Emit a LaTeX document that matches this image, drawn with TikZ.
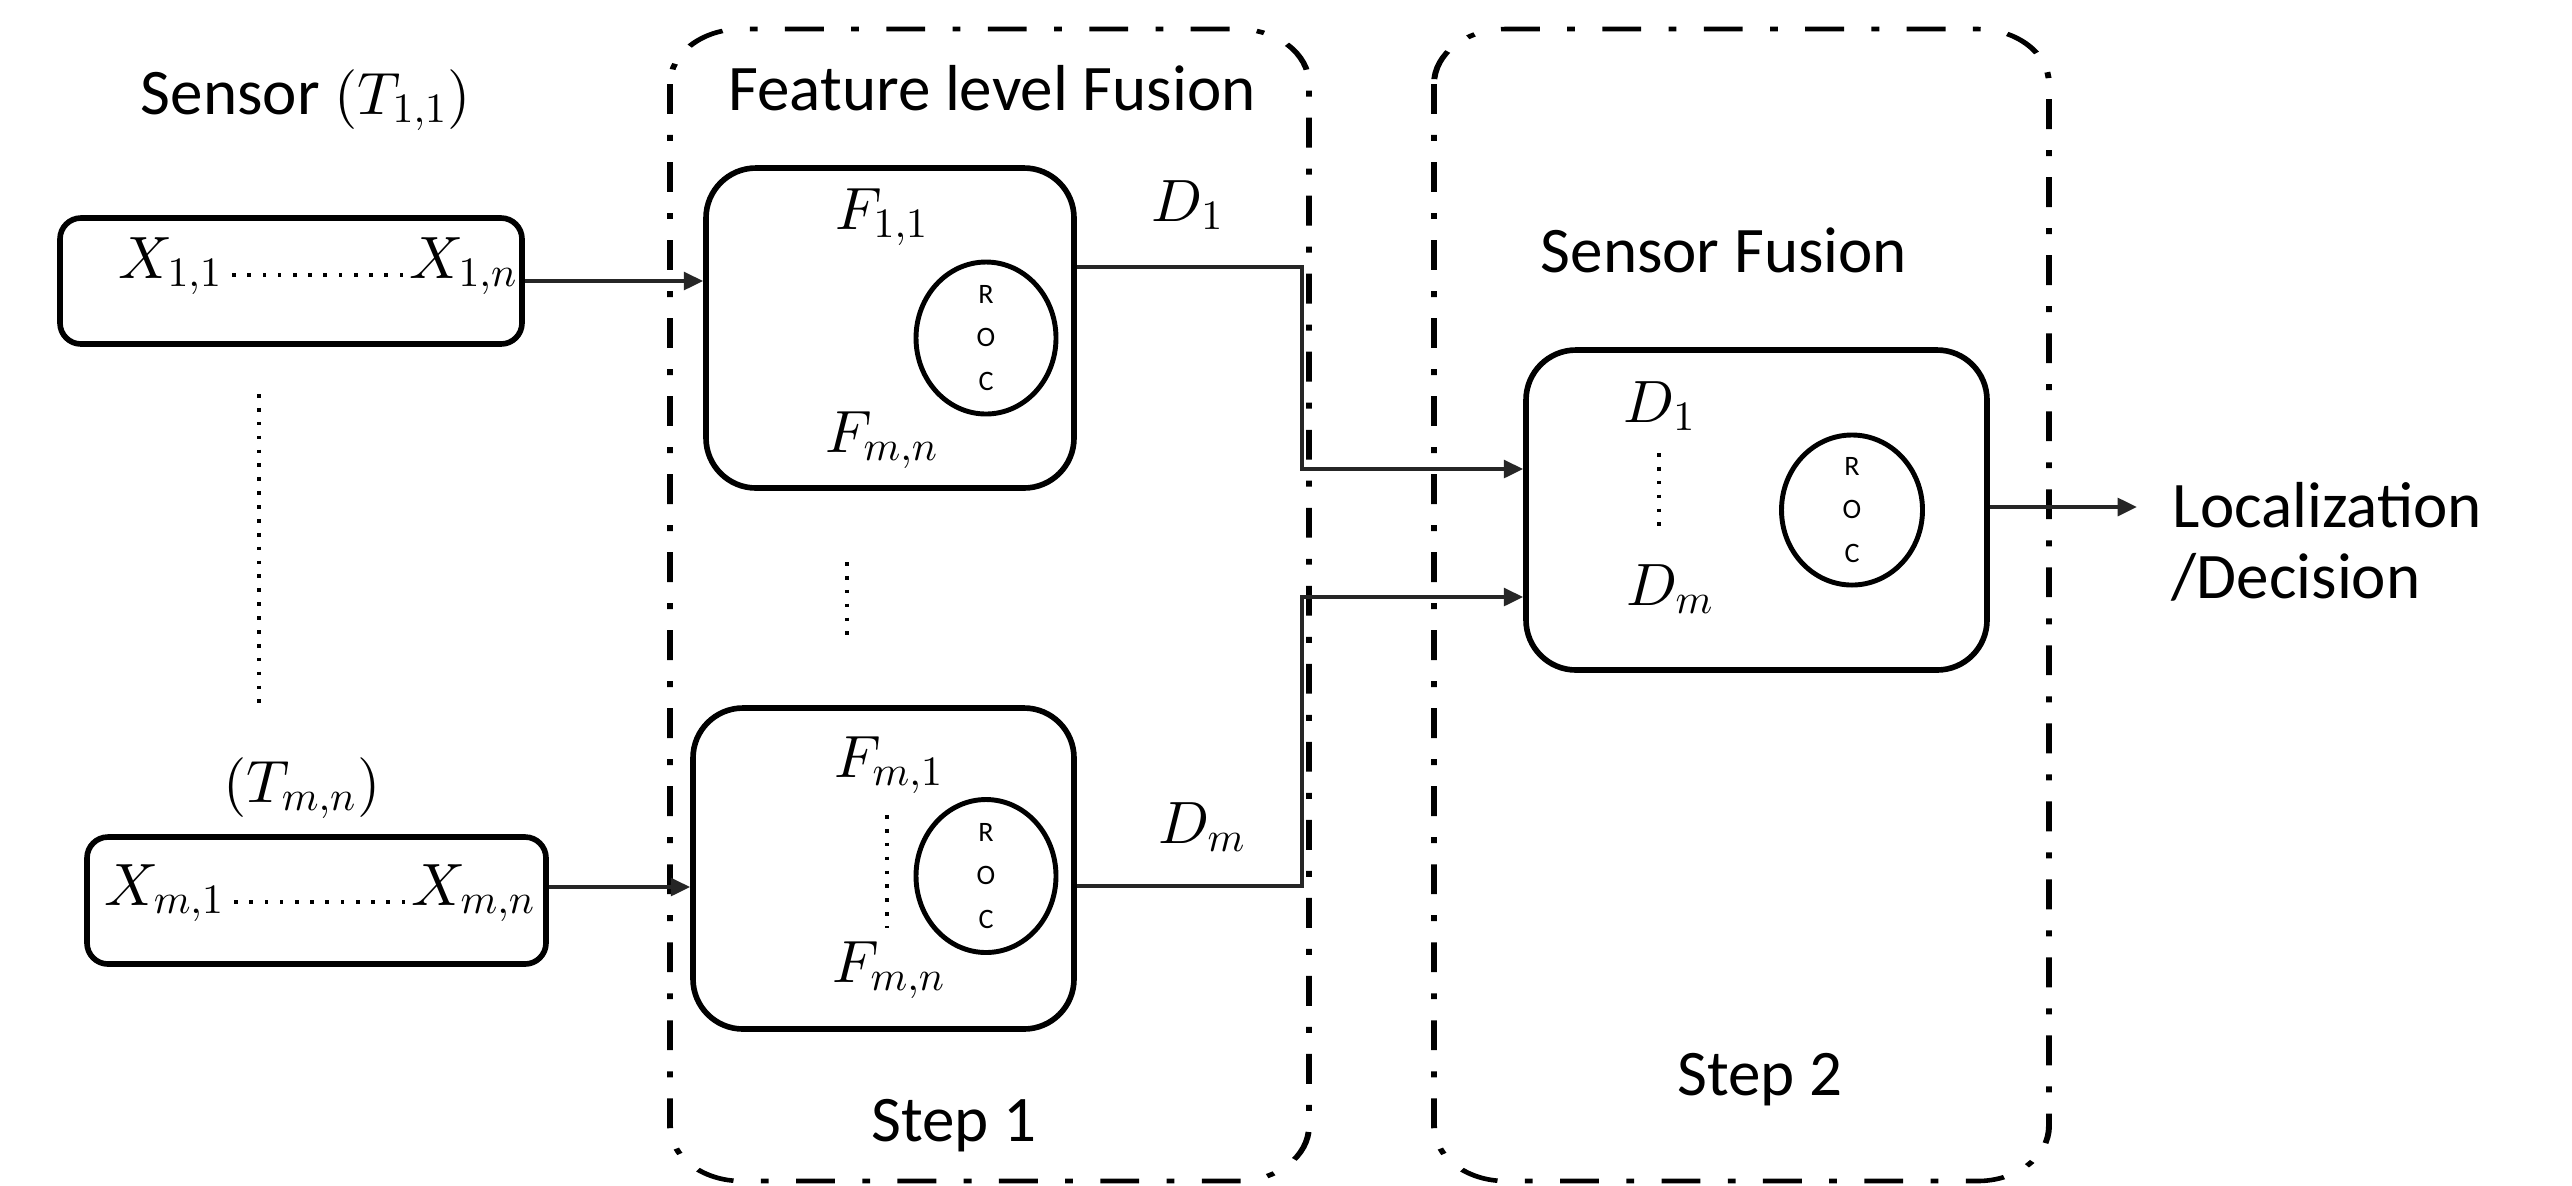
\documentclass[tikz,border=0pt]{standalone}
\usepackage[no-math]{fontspec}
\setmainfont{Carlito}
\DeclareFontShape{OML}{cmm}{m}{it}{<-> cmmi10}{}
\DeclareFontShape{OT1}{cmr}{m}{n}{<-> cmr10}{}
\DeclareFontShape{OMS}{cmsy}{m}{n}{<-> cmsy10}{}
\DeclareFontShape{OMX}{cmex}{m}{n}{<-> cmex10}{}
\usetikzlibrary{shapes.geometric,arrows.meta}
\newcommand\dotrun{\kern1pt\xleaders\hbox to 4.3pt{\hss\rule[0.4pt]{1.05pt}{1.05pt}\hss}\hskip 52pt\relax}
\begin{document}
\begin{tikzpicture}[
  txt/.style={font=\fontsize{18.5}{20}\selectfont, inner sep=0pt, anchor=base},
  mth/.style={font=\fontsize{17}{20}\selectfont, inner sep=0pt, anchor=base},
  sbox/.style={draw, line width=1.6pt, rounded corners=0.21cm, inner sep=0pt},
  fusebox/.style={draw, line width=1.6pt, rounded corners=0.5cm, inner sep=0pt},
  roc/.style={draw, ellipse, line width=1.4pt, inner sep=0pt, align=center, font=\fontsize{8}{12.5}\selectfont},
  ddbox/.style={line width=1.3pt, dash pattern=on 8.5pt off 6pt on 1.7pt off 6pt, rounded corners=0.55cm},
  conn/.style={line width=1.15pt, draw=black!85},
  arr/.style={conn, -{Triangle[length=5.5pt,width=5pt]}},
  dotv/.style={line width=1.05pt, dash pattern=on 1.05pt off 2.9pt},
]
\useasboundingbox[fill=white] (0,0) rectangle (25.72,-11.85);

% dash-dot step containers
\begin{scope}[transform canvas={xscale=1.3}]
  \draw[ddbox] ({6.70/1.3},-0.29) rectangle ({13.09/1.3},-11.81);
  \draw[ddbox] ({14.34/1.3},-0.29) rectangle ({20.49/1.3},-11.81);
\end{scope}

% boxes
\node[sbox, minimum width=4.62cm, minimum height=1.26cm] (S1) at (2.91,-2.81) {};
\node[sbox, minimum width=4.59cm, minimum height=1.27cm] (S2) at (3.165,-9.005) {};
\node[fusebox, minimum width=3.68cm, minimum height=3.20cm] (F1) at (8.90,-3.28) {};
\node[fusebox, minimum width=3.81cm, minimum height=3.21cm] (F2) at (8.835,-8.685) {};
\node[fusebox, minimum width=4.61cm, minimum height=3.20cm] (SF) at (17.565,-5.10) {};

\node[roc, minimum width=1.40cm, minimum height=1.52cm] (E1) at (9.86,-3.38) {R\\O\\C};
\node[roc, minimum width=1.40cm, minimum height=1.53cm] (E2) at (9.86,-8.76) {R\\O\\C};
\node[roc, minimum width=1.41cm, minimum height=1.50cm] (E3) at (18.52,-5.10) {R\\O\\C};

% labels
\node[txt] (lab1) at (3.06,-1.14) {Sensor {\fontsize{17}{20}\selectfont$(T_{1,1})$}};
\node[txt] (FLF) at (9.92,-1.10) {Feature level Fusion};
\node[txt] (SFlab) at (17.24,-2.72) {Sensor Fusion};
\node[txt] (st1) at (9.54,-11.41) {Step 1};
\node[txt] (st2) at (17.60,-10.95) {Step 2};
\node[txt, anchor=base west] (loc1) at (21.72,-5.27) {Localization};
\node[txt, anchor=base west] (loc2) at (21.71,-5.98) {/Decision};

\node[mth] (x1) at (3.18,-2.78) {$X_{1,1}$\dotrun$X_{1,n}$};
\node[mth] (xm) at (3.20,-9.05) {$X_{m,1}$\dotrun$X_{m,n}$};
\node[mth] (Tmn) at (3.02,-8.02) {$(T_{m,n})$};
\node[mth] (f11) at (8.82,-2.29) {$F_{1,1}$};
\node[mth] (f1mn) at (8.82,-4.52) {$F_{m,n}$};
\node[mth] (fm1) at (8.89,-7.77) {$F_{m,1}$};
\node[mth] (fmn) at (8.89,-9.82) {$F_{m,n}$};
\node[mth] (d1) at (11.88,-2.21) {$D_1$};
\node[mth] (dm) at (12.02,-8.43) {$D_m$};
\node[mth] (sd1) at (16.60,-4.22) {$D_1$};
\node[mth] (sdm) at (16.70,-6.05) {$D_m$};

% vertical dotted runs
\draw[dotv] (2.59,-3.94) -- (2.59,-7.13);
\draw[dotv] (8.47,-5.62) -- (8.47,-6.37);
\draw[dotv] (8.87,-8.15) -- (8.87,-9.28);
\draw[dotv] (16.59,-4.53) -- (16.59,-5.27);

% connectors
\coordinate (j1) at (13.02,-2.67);
\coordinate (k1) at (13.02,-4.69);
\coordinate (j2) at (13.02,-8.86);
\coordinate (k2) at (13.02,-5.97);
\coordinate (a2) at (0,-8.87);
\coordinate (outend) at (21.37,-5.07);
\draw[arr] (S1.east) -- (S1.east -| F1.west);
\draw[arr] (S2.east |- a2) -- (a2 -| F2.west);
\draw[arr] (F1.east |- j1) -- (j1) -- (k1) -- (k1 -| SF.west);
\draw[arr] (F2.east |- j2) -- (j2) -- (k2) -- (k2 -| SF.west);
\draw[arr] (SF.east |- outend) -- (outend);
\end{tikzpicture}
\end{document}
